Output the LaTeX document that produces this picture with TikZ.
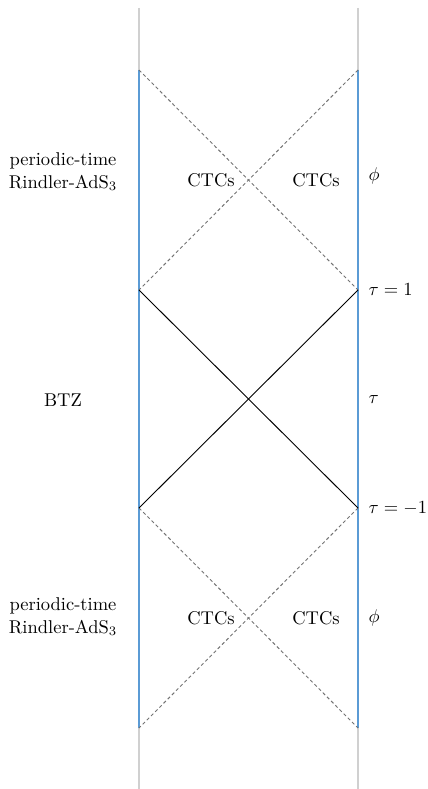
\documentclass[tikz,border=0pt]{standalone}
\usepackage{amsmath,amssymb}
\usepackage{xcolor}
\usepackage{tikz}
\usetikzlibrary{positioning,calc}
\definecolor{bdryblue}{RGB}{91,155,213}
\definecolor{bdrygray}{RGB}{208,208,208}

\begin{document}
\begin{tikzpicture}[x=0.019cm, y=-0.019cm,
    wall/.style={bdrygray, line width=1.5pt},
    bdry/.style={bdryblue, line width=1.2pt},
    horizon/.style={black!55, dash pattern=on 1.8pt off 1.4pt, line width=0.5pt},
    lightcone/.style={black, line width=0.5pt}]
    \useasboundingbox (0,0) rectangle (428,789);

    % corners of the three diamonds
    \coordinate (l0) at (139,70);  \coordinate (r0) at (358,70);
    \coordinate (l1) at (139,290); \coordinate (r1) at (358,290);
    \coordinate (l2) at (139,508); \coordinate (r2) at (358,508);
    \coordinate (l3) at (139,728); \coordinate (r3) at (358,728);
    \coordinate (lt) at (139,8);   \coordinate (rt) at (358,8);
    \coordinate (lb) at (139,789); \coordinate (rb) at (358,789);

    \draw[wall] (lt) -- (lb);
    \draw[wall] (rt) -- (rb);
    \draw[bdry] (l0) -- (l3);
    \draw[bdry] (r0) -- (r3);

    % periodic-time regions
    \draw[horizon] (l0) -- (r1);
    \draw[horizon] (r0) -- (l1);
    \draw[horizon] (l2) -- (r3);
    \draw[horizon] (r2) -- (l3);

    % BTZ region
    \draw[lightcone] (l1) -- (r2);
    \draw[lightcone] (r1) -- (l2);

    \node[align=center] (topname) at (63,172) {periodic-time\\Rindler-AdS$_3$};
    \node (btz) at (63,400) {BTZ};
    \node[align=center] (botname) at (63,617) {periodic-time\\Rindler-AdS$_3$};

    \node (ctc1) at (211,180) {CTCs};
    \node (ctc2) at (316,180) {CTCs};
    \node (ctc3) at (211,618) {CTCs};
    \node (ctc4) at (316,618) {CTCs};

    \node[right] (phitop) at (362,176) {$\phi$};
    \node[right] (tauone) at (362,290) {$\tau=1$};
    \node[right] (tau) at (362,400) {$\tau$};
    \node[right] (taumone) at (362,508) {$\tau=-1$};
    \node[right] (phibot) at (362,618) {$\phi$};
\end{tikzpicture}
\end{document}
